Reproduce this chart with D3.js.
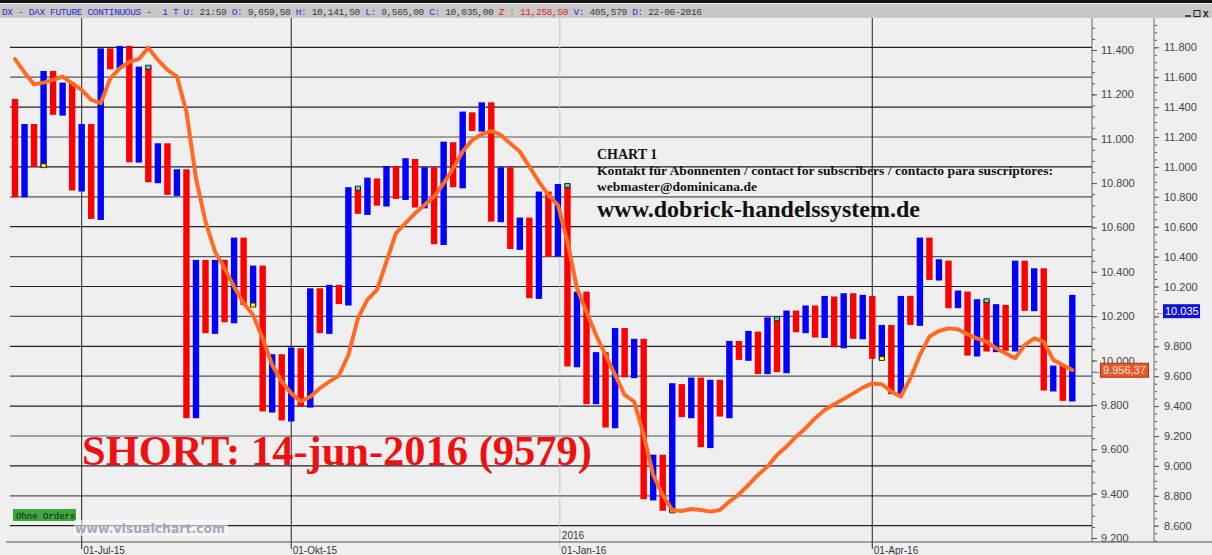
<!DOCTYPE html>
<html>
<head>
<meta charset="utf-8">
<script src="https://cdn.jsdelivr.net/npm/d3@7"></script>
<style>
  body { margin: 0; background: #efefef; }
  svg { display: block; }
</style>
</head>
<body>
<div id="chart"></div>
<script>
// bar tops and bottoms (right-hand price scale), one pair per bar
const barHigh = [11455, 11287, 11287, 11642, 11642, 11564, 11564, 11287, 11287, 11793,
  11793, 11809, 11809, 11671, 11677, 11158, 11158, 10984, 10984, 10378,
  10378, 10378, 10378, 10527, 10527, 10340, 10340, 9747, 9747, 9792,
  9787, 10188, 10188, 10211, 10211, 10864, 10868, 10928, 10923, 11006,
  11006, 11058, 11053, 10998, 10998, 11169, 11165, 11370, 11365, 11432,
  11432, 10998, 10998, 10661, 10661, 10835, 10835, 10886, 10886, 10166,
  10166, 9761, 9761, 9922, 9922, 9850, 9850, 9075, 9075, 9553,
  9547, 9591, 9591, 9576, 9576, 9836, 9836, 9903, 9898, 9994,
  9994, 10039, 10039, 10073, 10073, 10137, 10133, 10155, 10155, 10144,
  10137, 9943, 9943, 10137, 10137, 10527, 10527, 10382, 10373, 10173,
  10166, 10115, 10115, 10082, 10077, 10373, 10373, 10322, 10322, 9671,
  9671, 10144];
const barLow = [10797, 10797, 11002, 10998, 11348, 11343, 10842, 10835, 10652, 10645,
  11653, 11655, 11031, 11029, 10897, 10891, 10813, 10806, 9319, 9319,
  9888, 9883, 9961, 9954, 10077, 10066, 9364, 9357, 9304, 9297,
  9397, 9390, 9888, 9883, 10082, 10073, 10686, 10679, 10741, 10735,
  10786, 10779, 10728, 10723, 10483, 10478, 10864, 10857, 11240, 11236,
  10634, 10630, 10451, 10445, 10122, 10117, 10400, 10400, 9665, 9660,
  9413, 9413, 9257, 9252, 9593, 9587, 8777, 8769, 8700, 8689,
  9326, 9319, 9125, 9119, 9330, 9319, 9709, 9703, 9614, 9614,
  9627, 9620, 9894, 9888, 9859, 9856, 9794, 9787, 9850, 9847,
  9716, 9709, 9480, 9475, 9943, 9937, 10244, 10240, 10055, 10055,
  9738, 9732, 9765, 9761, 9770, 9765, 10037, 10035, 9504, 9498,
  9435, 9431];

// orange average (inner price scale)
const avgLine = [11359, 11299, 11245, 11253, 11265, 11280, 11250, 11220, 11175, 11160,
  11272, 11317, 11347, 11359, 11410, 11355, 11310, 11280, 11122, 10822,
  10626, 10491, 10416, 10333, 10258, 10205, 10100, 9980, 9905, 9852,
  9815, 9837, 9875, 9905, 9932, 10025, 10190, 10275, 10318, 10446,
  10574, 10619, 10664, 10701, 10739, 10799, 10867, 10942, 10994, 11020,
  11035, 11017, 10979, 10942, 10874, 10806, 10746, 10701, 10536, 10326,
  10220, 10115, 10025, 9935, 9845, 9815, 9664, 9484, 9394, 9326,
  9322, 9331, 9326, 9319, 9326, 9364, 9397, 9439, 9484, 9522,
  9574, 9612, 9657, 9695, 9740, 9777, 9803, 9827, 9852, 9878,
  9897, 9893, 9860, 9837, 9920, 10025, 10108, 10133, 10145, 10141,
  10118, 10100, 10085, 10055, 10033, 10010, 10070, 10100, 10085, 10003,
  9980, 9957];

// signal markers: bar index and which end
const markerBar = [3, 14, 25, 36, 58, 69, 80, 91, 102];
const markerEnd = ["low", "high", "low", "high", "high", "low", "high", "low", "high"];

// date divisions (bar index where the month starts)
const dateIndex = [7, 29, 57.2, 90];
const dateLabels = ["01-Jul-15", "01-Okt-15", "01-Jan-16", "01-Apr-16"];

const lastClose = 10035;
const lastAvg = 9956.37;

const W = 1212, H = 555;
const plot = { left: 10, right: 1092, top: 18, bottom: 542 };
const axis2 = 1154;

const svg = d3.select("#chart").append("svg")
  .attr("width", W)
  .attr("height", H)
  .style("font-family", "Liberation Sans, Arial, sans-serif");

const x = d3.scaleLinear().domain([0, barHigh.length - 1]).range([15, 1072.3]);
const yBar = d3.scaleLinear().domain([8600, 11800]).range([525.7, 47.3]);
const yAvg = d3.scaleLinear().domain([9200, 11400]).range([538, 50]);
const fmt = v => d3.format(",.0f")(v).replace(/,/g, ".");

// background + header strip
svg.append("rect").attr("width", W).attr("height", H).attr("fill", "#efefef");
svg.append("rect").attr("width", W).attr("height", 3).attr("fill", "#151515");
svg.append("rect").attr("y", 4).attr("width", W).attr("height", 14).attr("fill", "#c8c8c8");

const header = svg.append("text")
  .attr("x", 2).attr("y", 14.5)
  .attr("font-family", "Liberation Mono, DejaVu Sans Mono, monospace")
  .attr("font-size", 9.5)
  .attr("textLength", 700).attr("lengthAdjust", "spacing")
  .style("white-space", "pre");
const hBlue = "#2b2bd0", hDark = "#3a3a3a", hRed = "#e01e1e";
[["DX - DAX FUTURE CONTINUOUS -  1 T U: ", hBlue], ["21:59 ", hDark],
 ["O: ", hBlue], ["9,659,50 ", hDark], ["H: ", hBlue], ["10,141,50 ", hDark],
 ["L: ", hBlue], ["9,565,00 ", hDark], ["C: ", hBlue], ["10,035,00 ", hDark],
 ["Z : 11,258,50 ", hRed], ["V: ", hBlue], ["405,579 ", hDark],
 ["D: ", hBlue], ["22-06-2016", hDark]].forEach(function (s) {
  header.append("tspan").attr("fill", s[1]).text(s[0]);
});

// window buttons
svg.append("line").attr("x1", 1185).attr("x2", 1191).attr("y1", 16).attr("y2", 16)
  .attr("stroke", "#222").attr("stroke-width", 1.5);
svg.append("rect").attr("x", 1194).attr("y", 10.5).attr("width", 6).attr("height", 6)
  .attr("fill", "none").attr("stroke", "#222");
svg.append("text").attr("x", 1203).attr("y", 17).attr("font-size", 10)
  .attr("font-weight", "bold").attr("fill", "#222").text("x");

// horizontal grid (right-hand scale)
svg.append("g").selectAll("line")
  .data(d3.range(8600, 11801, 200))
  .enter().append("line")
  .attr("x1", plot.left).attr("x2", plot.right)
  .attr("y1", d => yBar(d)).attr("y2", d => yBar(d))
  .attr("stroke", (d, i) => i % 2 ? "#555" : "#222")
  .attr("stroke-width", 1.2);

// vertical month lines
svg.append("g").selectAll("line")
  .data(dateIndex)
  .enter().append("line")
  .attr("x1", d => x(d)).attr("x2", d => x(d))
  .attr("y1", plot.top).attr("y2", plot.bottom + 7)
  .attr("stroke", (d, i) => i === 2 ? "#c4c4c4" : "#222")
  .attr("stroke-width", 1);

// bars
svg.append("g").selectAll("rect")
  .data(barHigh)
  .enter().append("rect")
  .attr("x", (d, i) => x(i) - 3.2)
  .attr("width", 6.4)
  .attr("y", d => yBar(d))
  .attr("height", (d, i) => yBar(barLow[i]) - yBar(d))
  .attr("fill", (d, i) => i % 2 ? "#0000ff" : "#ff0000");

// markers
svg.append("g").selectAll("rect")
  .data(markerBar)
  .enter().append("rect")
  .attr("x", d => x(d) - 2.5)
  .attr("y", (d, i) => markerEnd[i] === "high" ? yBar(barHigh[d]) - 0.5 : yBar(barLow[d]) - 3.5)
  .attr("width", 5).attr("height", 4)
  .attr("fill", (d, i) => markerEnd[i] === "high" ? "#40e0e0" : "#ffff00")
  .attr("stroke", "#111").attr("stroke-width", 0.8);

// orange average line
const line = d3.line()
  .x((d, i) => x(i))
  .y(d => yAvg(d));
svg.append("path")
  .datum(avgLine)
  .attr("d", line)
  .attr("fill", "none")
  .attr("stroke", "#ff6a24")
  .attr("stroke-width", 4)
  .attr("stroke-linejoin", "round")
  .attr("stroke-linecap", "round");

// texts in the chart
const serif = "Liberation Serif, Times New Roman, serif";
svg.append("text").attr("x", 597).attr("y", 159).attr("font-family", serif)
  .attr("font-weight", "bold").attr("font-size", 14).attr("fill", "#111").text("CHART 1");
svg.append("text").attr("x", 597).attr("y", 175).attr("font-family", serif)
  .attr("font-weight", "bold").attr("font-size", 13.5).attr("fill", "#111")
  .attr("textLength", 456).attr("lengthAdjust", "spacingAndGlyphs")
  .text("Kontakt für Abonnenten / contact for subscribers / contacto para suscriptores:");
svg.append("text").attr("x", 597).attr("y", 191).attr("font-family", serif)
  .attr("font-weight", "bold").attr("font-size", 13.5).attr("fill", "#111")
  .attr("textLength", 160).attr("lengthAdjust", "spacingAndGlyphs")
  .text("webmaster@dominicana.de");
svg.append("text").attr("x", 597).attr("y", 217).attr("font-family", serif)
  .attr("font-weight", "bold").attr("font-size", 24).attr("fill", "#111")
  .attr("textLength", 323).attr("lengthAdjust", "spacingAndGlyphs")
  .text("www.dobrick-handelssystem.de");
svg.append("text").attr("x", 82).attr("y", 465).attr("font-family", serif)
  .attr("font-weight", "bold").attr("font-size", 43).attr("fill", "#ee1111")
  .attr("textLength", 510).attr("lengthAdjust", "spacingAndGlyphs")
  .text("SHORT: 14-jun-2016 (9579)");

// inner axis (average scale)
const innerG = svg.append("g").attr("transform", "translate(" + plot.right + ",0)");
innerG.call(d3.axisRight(yAvg).tickValues(d3.range(9200, 11401, 200))
  .tickSize(5).tickPadding(4).tickFormat(fmt));
innerG.append("g").call(d3.axisRight(yAvg)
  .tickValues(d3.range(9050, 11700, 50).filter(v => yAvg(v) > plot.top && yAvg(v) < plot.bottom))
  .tickSize(3).tickFormat(""));

// outer axis (bar scale); the 10.000 label sits under the last-close box
const outerG = svg.append("g").attr("transform", "translate(" + axis2 + ",0)");
outerG.call(d3.axisRight(yBar).tickValues(d3.range(8600, 11801, 200))
  .tickSize(5).tickPadding(5).tickFormat(v => v === 10000 ? "" : fmt(v)));
outerG.append("g").call(d3.axisRight(yBar)
  .tickValues(d3.range(8400, 12000, 50).filter(v => yBar(v) > plot.top && yBar(v) < plot.bottom))
  .tickSize(3).tickFormat(""));

svg.selectAll(".domain").remove();
svg.selectAll(".tick line").attr("stroke", "#555");
svg.selectAll(".tick text").attr("font-family", "Liberation Sans, Arial, sans-serif")
  .attr("font-size", 11).attr("fill", "#444");

svg.append("line").attr("x1", plot.right).attr("x2", plot.right)
  .attr("y1", plot.top).attr("y2", plot.bottom).attr("stroke", "#666");
svg.append("line").attr("x1", axis2).attr("x2", axis2)
  .attr("y1", plot.top).attr("y2", plot.bottom).attr("stroke", "#999").attr("stroke-width", 1.5);

// bottom axis
svg.append("line").attr("x1", 6).attr("x2", W)
  .attr("y1", plot.bottom).attr("y2", plot.bottom).attr("stroke", "#555").attr("stroke-width", 1.2);
svg.append("g").selectAll("text")
  .data(dateLabels)
  .enter().append("text")
  .attr("x", (d, i) => x(dateIndex[i]) + 1.5)
  .attr("y", 554)
  .attr("font-size", 10).attr("fill", "#333")
  .text(d => d);
svg.append("text").attr("x", x(dateIndex[2]) + 2).attr("y", 539)
  .attr("font-size", 10).attr("fill", "#333").text("2016");

// last value boxes
const yc = yBar(lastClose);
svg.append("text").attr("x", 1155).attr("y", yc + 3.5).attr("font-size", 9).attr("fill", "#555").text("←");
svg.append("rect").attr("x", 1163).attr("y", yc - 7).attr("width", 37).attr("height", 14)
  .attr("fill", "#1212d8");
svg.append("text").attr("x", 1165).attr("y", yc + 4).attr("font-size", 11)
  .attr("fill", "#fff").text(fmt(lastClose));

const ya = yAvg(lastAvg);
svg.append("text").attr("x", 1093).attr("y", ya + 3.5).attr("font-size", 9).attr("fill", "#555").text("←");
svg.append("rect").attr("x", 1100.5).attr("y", ya - 7).attr("width", 48).attr("height", 14)
  .attr("fill", "#e8582a").attr("stroke", "#a83a14");
svg.append("text").attr("x", 1103).attr("y", ya + 4).attr("font-size", 11)
  .attr("fill", "#ffe8dc").text("9.956,37");

// footer labels
svg.append("rect").attr("x", 13).attr("y", 509).attr("width", 63).attr("height", 12)
  .attr("fill", "#3aa83a");
svg.append("text").attr("x", 16).attr("y", 518.5).attr("font-size", 9)
  .attr("font-family", "Liberation Mono, monospace").attr("fill", "#1a1a1a").text("Ohne Orders");
svg.append("rect").attr("x", 74).attr("y", 520).attr("width", 154).attr("height", 16)
  .attr("fill", "#fafafa").attr("opacity", 0.6);
svg.append("text").attr("x", 75).attr("y", 533).attr("font-size", 13)
  .attr("font-family", "DejaVu Sans, sans-serif").attr("font-weight", "bold")
  .attr("fill", "#a3a9bd").attr("textLength", 150).attr("lengthAdjust", "spacingAndGlyphs")
  .text("www.visualchart.com");
</script>
</body>
</html>
